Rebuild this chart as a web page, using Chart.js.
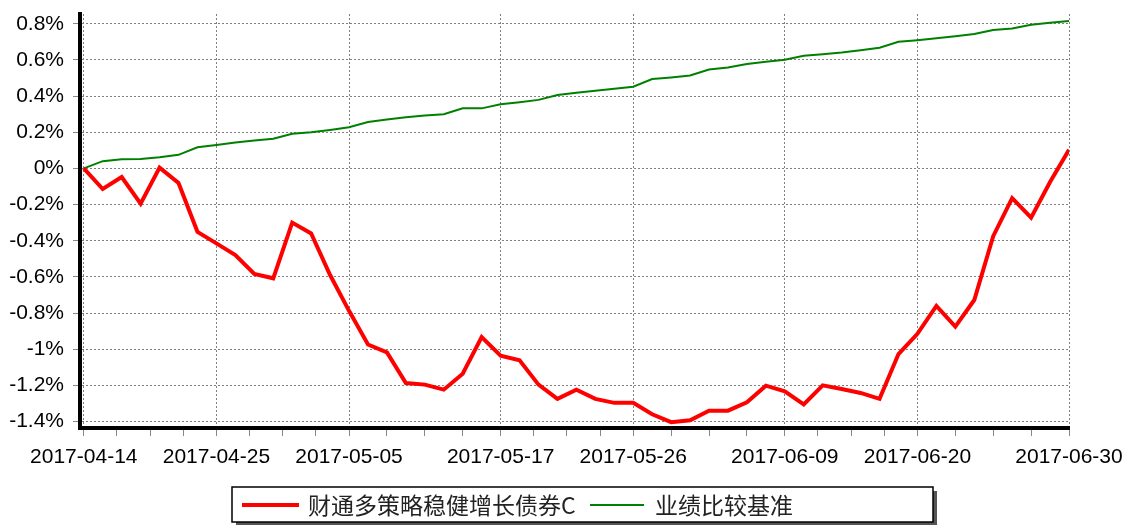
<!DOCTYPE html>
<html>
<head>
<meta charset="utf-8">
<script src="https://cdn.jsdelivr.net/npm/chart.js@4/dist/chart.umd.min.js"></script>
<style>
  html, body { margin: 0; padding: 0; background: #fff; }
  #wrap { width: 1124px; height: 525px; }
</style>
</head>
<body>
<div id="wrap"><canvas id="navChart" width="1124" height="525"></canvas></div>
<script>
// trading days shown on the x axis
const dates = [
  '2017-04-14','2017-04-17','2017-04-18','2017-04-19','2017-04-20','2017-04-21',
  '2017-04-24','2017-04-25','2017-04-26','2017-04-27','2017-04-28',
  '2017-05-02','2017-05-03','2017-05-04','2017-05-05',
  '2017-05-08','2017-05-09','2017-05-10','2017-05-11','2017-05-12',
  '2017-05-15','2017-05-16','2017-05-17','2017-05-18','2017-05-19',
  '2017-05-22','2017-05-23','2017-05-24','2017-05-25','2017-05-26',
  '2017-05-31','2017-06-01','2017-06-02',
  '2017-06-05','2017-06-06','2017-06-07','2017-06-08','2017-06-09',
  '2017-06-12','2017-06-13','2017-06-14','2017-06-15','2017-06-16',
  '2017-06-19','2017-06-20','2017-06-21','2017-06-22','2017-06-23',
  '2017-06-26','2017-06-27','2017-06-28','2017-06-29','2017-06-30'
];
const xLabelDates = ['2017-04-14','2017-04-25','2017-05-05','2017-05-17','2017-05-26','2017-06-09','2017-06-20','2017-06-30'];
const yTicks = [-1.4, -1.2, -1.0, -0.8, -0.6, -0.4, -0.2, 0, 0.2, 0.4, 0.6, 0.8];

// cumulative return, %
const fundName = '财通多策略稳健增长债券C';
const fundValues = [
  0, -0.114, -0.048, -0.195, 0.004, -0.081, -0.351, -0.415, -0.48, -0.584, -0.608,
  -0.30, -0.36, -0.59, -0.788, -0.974, -1.018, -1.187, -1.196, -1.224, -1.136,
  -0.933, -1.036, -1.062, -1.196, -1.275, -1.224, -1.275, -1.297, -1.297, -1.36,
  -1.404, -1.393, -1.34, -1.34, -1.294, -1.202, -1.233, -1.306, -1.2, -1.22,
  -1.242, -1.275, -1.027, -0.915, -0.761, -0.875, -0.728, -0.375, -0.165, -0.272,
  -0.075, 0.103
];
const benchName = '业绩比较基准';
const benchValues = [
  0, 0.04, 0.051, 0.052, 0.062, 0.075, 0.117, 0.13, 0.143, 0.154, 0.164,
  0.191, 0.2, 0.213, 0.228, 0.257, 0.27, 0.283, 0.292, 0.30, 0.332,
  0.332, 0.355, 0.366, 0.379, 0.406, 0.419, 0.43, 0.441, 0.452, 0.494,
  0.503, 0.514, 0.547, 0.558, 0.577, 0.59, 0.601, 0.623, 0.632, 0.641,
  0.654, 0.667, 0.70, 0.709, 0.72, 0.731, 0.743, 0.765, 0.774, 0.794,
  0.805, 0.816
];

const labelIdx = xLabelDates.map(d => dates.indexOf(d));

// legend drawn as a framed box with a shadow, like the original
const boxLegend = {
  id: 'boxLegend',
  afterDraw(chart) {
    const ctx = chart.ctx;
    const x = 232, y = 487, w = 701, h = 35;
    ctx.save();
    ctx.fillStyle = '#555';
    ctx.fillRect(x + 4, y + 4, w, h);
    ctx.fillStyle = '#fff';
    ctx.fillRect(x, y, w, h);
    ctx.strokeStyle = '#000';
    ctx.lineWidth = 1.5;
    ctx.strokeRect(x, y, w, h);

    const cy = y + h / 2 + 0.5;
    const items = [
      { x0: 242, x1: 299, tx: 308, ds: chart.data.datasets[0] },
      { x0: 590, x1: 644, tx: 655, ds: chart.data.datasets[1] }
    ];
    ctx.font = '23px "Noto Sans CJK SC", "Liberation Sans", sans-serif';
    ctx.textBaseline = 'middle';
    ctx.textAlign = 'left';
    items.forEach(it => {
      ctx.strokeStyle = it.ds.borderColor;
      ctx.lineWidth = it.ds.borderWidth;
      ctx.beginPath();
      ctx.moveTo(it.x0, cy);
      ctx.lineTo(it.x1, cy);
      ctx.stroke();
      ctx.fillStyle = '#222';
      ctx.fillText(it.ds.label, it.tx, cy);
    });
    ctx.restore();
  }
};

const chart = new Chart(document.getElementById('navChart').getContext('2d'), {
  type: 'line',
  data: {
    datasets: [{
      label: fundName,
      data: fundValues.map((v, i) => ({ x: i, y: v })),
      borderColor: '#ff0000',
      borderWidth: 4,
      pointRadius: 0,
      tension: 0,
      fill: false
    }, {
      label: benchName,
      data: benchValues.map((v, i) => ({ x: i, y: v })),
      borderColor: '#008000',
      borderWidth: 2,
      pointRadius: 0,
      tension: 0,
      fill: false
    }]
  },
  options: {
    responsive: false,
    animation: false,
    layout: { padding: { left: 0, top: 14, right: 55, bottom: 0 } },
    plugins: {
      legend: { display: false },
      tooltip: { enabled: false }
    },
    scales: {
      x: {
        type: 'linear',
        min: -0.2,
        max: dates.length - 1,
        afterBuildTicks: (scale) => {
          const t = [];
          for (let k = 0; k < labelIdx.length - 1; k++) {
            const a = labelIdx[k], b = labelIdx[k + 1];
            t.push({ value: a, major: true });
            for (let q = 1; q < 4; q++) t.push({ value: a + (b - a) * q / 4, major: false });
          }
          t.push({ value: labelIdx[labelIdx.length - 1], major: true });
          scale.ticks = t;
        },
        afterFit: (scale) => {
          scale.height = 97;
          scale.paddingLeft = 0;
          scale.paddingRight = 0;
        },
        ticks: {
          autoSkip: false,
          maxRotation: 0,
          padding: 9,
          color: '#000',
          font: { family: '"Liberation Sans", Arial, sans-serif', size: 21 },
          callback: (value) => labelIdx.includes(value) ? dates[value] : ''
        },
        grid: {
          color: (c) => (c.tick && c.tick.major) ? '#808080' : 'rgba(0,0,0,0)',
          lineWidth: 1,
          tickLength: 8,
          tickColor: '#888'
        },
        border: { display: true, color: '#000', width: 4, dash: [2, 2] }
      },
      y: {
        min: -1.436,
        max: 0.854,
        afterBuildTicks: (scale) => {
          scale.ticks = yTicks.map(v => ({ value: v }));
        },
        afterFit: (scale) => {
          scale.width = 80;
          scale.paddingTop = 0;
          scale.paddingBottom = 0;
        },
        ticks: {
          padding: 9,
          color: '#000',
          font: { family: '"Liberation Sans", Arial, sans-serif', size: 21 },
          callback: (value) => parseFloat(value.toFixed(1)) + '%'
        },
        grid: {
          color: '#808080',
          lineWidth: 1,
          tickLength: 7,
          tickColor: '#888'
        },
        border: { display: true, color: '#000', width: 4, dash: [2, 2] }
      }
    }
  },
  plugins: [boxLegend]
});
</script>
</body>
</html>
